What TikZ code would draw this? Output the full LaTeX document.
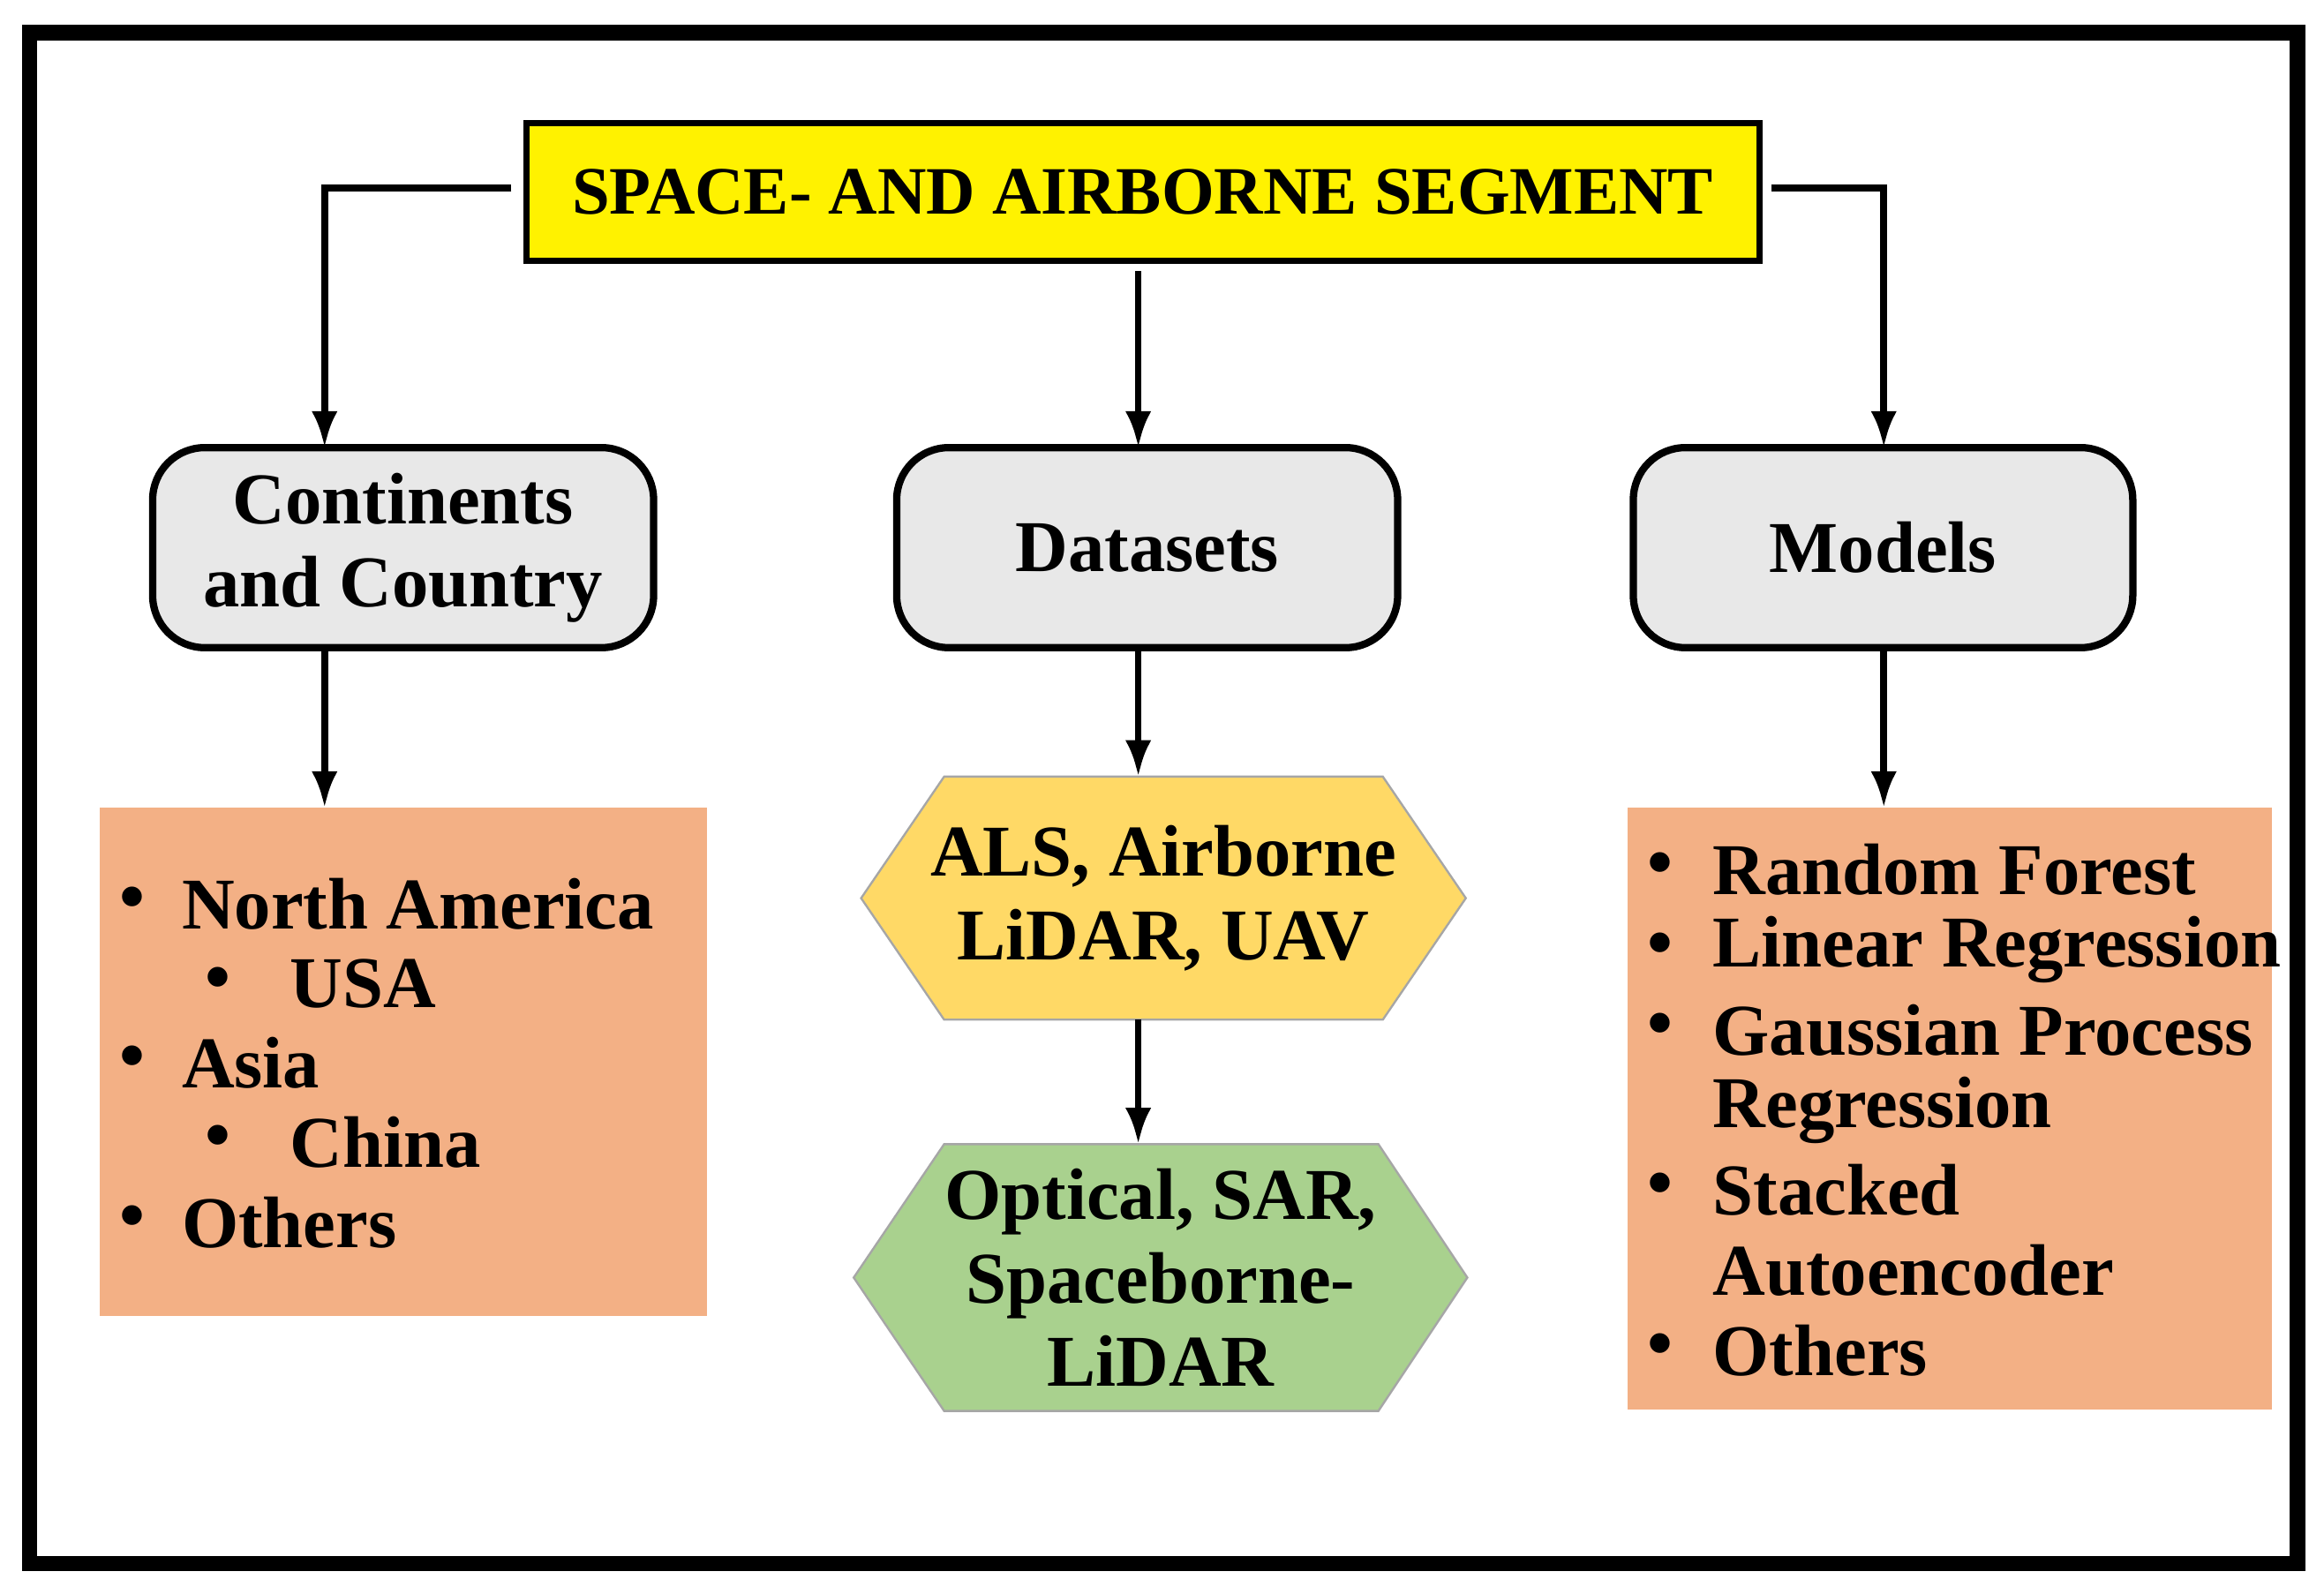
\documentclass[tikz,border=0pt]{standalone}
\usepackage{fontspec}
\setmainfont{Liberation Serif}
\usetikzlibrary{arrows.meta}
\begin{document}
\begin{tikzpicture}[x=0.01cm,y=-0.01cm,
  txt/.style={font=\bfseries\fontsize{14}{16}\selectfont},
  item/.style={txt,anchor=west,inner sep=0pt},
  gbox/.style={draw,line width=1.4pt,rounded corners=10pt,fill=gray!18,txt,align=center},
  arr/.style={-{Latex[length=7pt,width=5pt]},line width=1.3pt}]
\useasboundingbox (0,0) rectangle (1568,1075);
\draw[line width=3pt] (20,22) rectangle (1550,1055);
\node[draw,line width=1.2pt,fill=yellow,minimum width=832*0.01cm,minimum height=93*0.01cm,
  font=\bfseries\fontsize{13}{15}\selectfont] (t) at (771,129.5) {SPACE- AND AIRBORNE SEGMENT};
\node[gbox,minimum width=338*0.01cm,minimum height=135*0.01cm] (c) at (272,369.5) {Continents\\and Country};
\node[gbox,minimum width=338*0.01cm,minimum height=135*0.01cm] (d) at (774,369.5) {Datasets};
\node[gbox,minimum width=337*0.01cm,minimum height=135*0.01cm] (m) at (1270.5,369.5) {Models};
\fill[fill={rgb,255:red,243;green,176;blue,133}] (67,545) rectangle (477,888);
\fill[fill={rgb,255:red,243;green,176;blue,133}] (1098,545) rectangle (1533,951);
\coordinate (tl) at (345,127);
\coordinate (tr) at (1195,127);
\coordinate (tc) at (768,183);
\coordinate (ct) at (219,302);
\coordinate (cb) at (219,437);
\coordinate (dt) at (768,302);
\coordinate (db) at (768,437);
\coordinate (mt) at (1271,302);
\coordinate (mb) at (1271,437);
\coordinate (lb) at (219,545);
\coordinate (rb) at (1271,545);
\draw[fill={rgb,255:red,255;green,217;blue,102},draw=gray!70] (581,606)--(637,524)--(933,524)--(989,606)--(933,688)--(637,688)--cycle;
\node[txt,align=center] (h1) at (785,606) {ALS, Airborne\\LiDAR, UAV};
\draw[fill={rgb,255:red,169;green,209;blue,142},draw=gray!70] (576,862)--(637,772)--(930,772)--(990,862)--(930,952)--(637,952)--cycle;
\node[txt,align=center] (h2) at (783,862) {Optical, SAR,\\Spaceborne-\\LiDAR};
\coordinate (h1t) at (768,524);
\coordinate (h1b) at (768,688);
\coordinate (h2t) at (768,772);
\foreach \y/\bx/\tx/\s [count=\i] in {610/87/122/North America,664/145/195/USA,717/87/122/Asia,771/145/195/China,825/87/122/Others}{
  \node[item] (lbul\i) at (\bx-7,\y) {\textbullet};
  \node[item] (lt\i) at (\tx,\y) {\s};}
\foreach \y/\s/\b [count=\i] in {587/Random Forest/1,641/Linear Regression/1,695/Gaussian Process/1,749/Regression/0,803/Stacked/1,857/Autoencoder/0,911/Others/1}{
  \ifnum\b=1 \node[item] (rbul\i) at (1111,\y) {\textbullet};\fi
  \node[item] (rt\i) at (1155,\y) {\s};}
\draw[arr] (tl) -| (ct);
\draw[arr] (tr) -| (mt);
\draw[arr] (tc) -- (dt);
\draw[arr] (cb) -- (lb);
\draw[arr] (db) -- (h1t);
\draw[arr] (mb) -- (rb);
\draw[arr] (h1b) -- (h2t);
\end{tikzpicture}
\end{document}
